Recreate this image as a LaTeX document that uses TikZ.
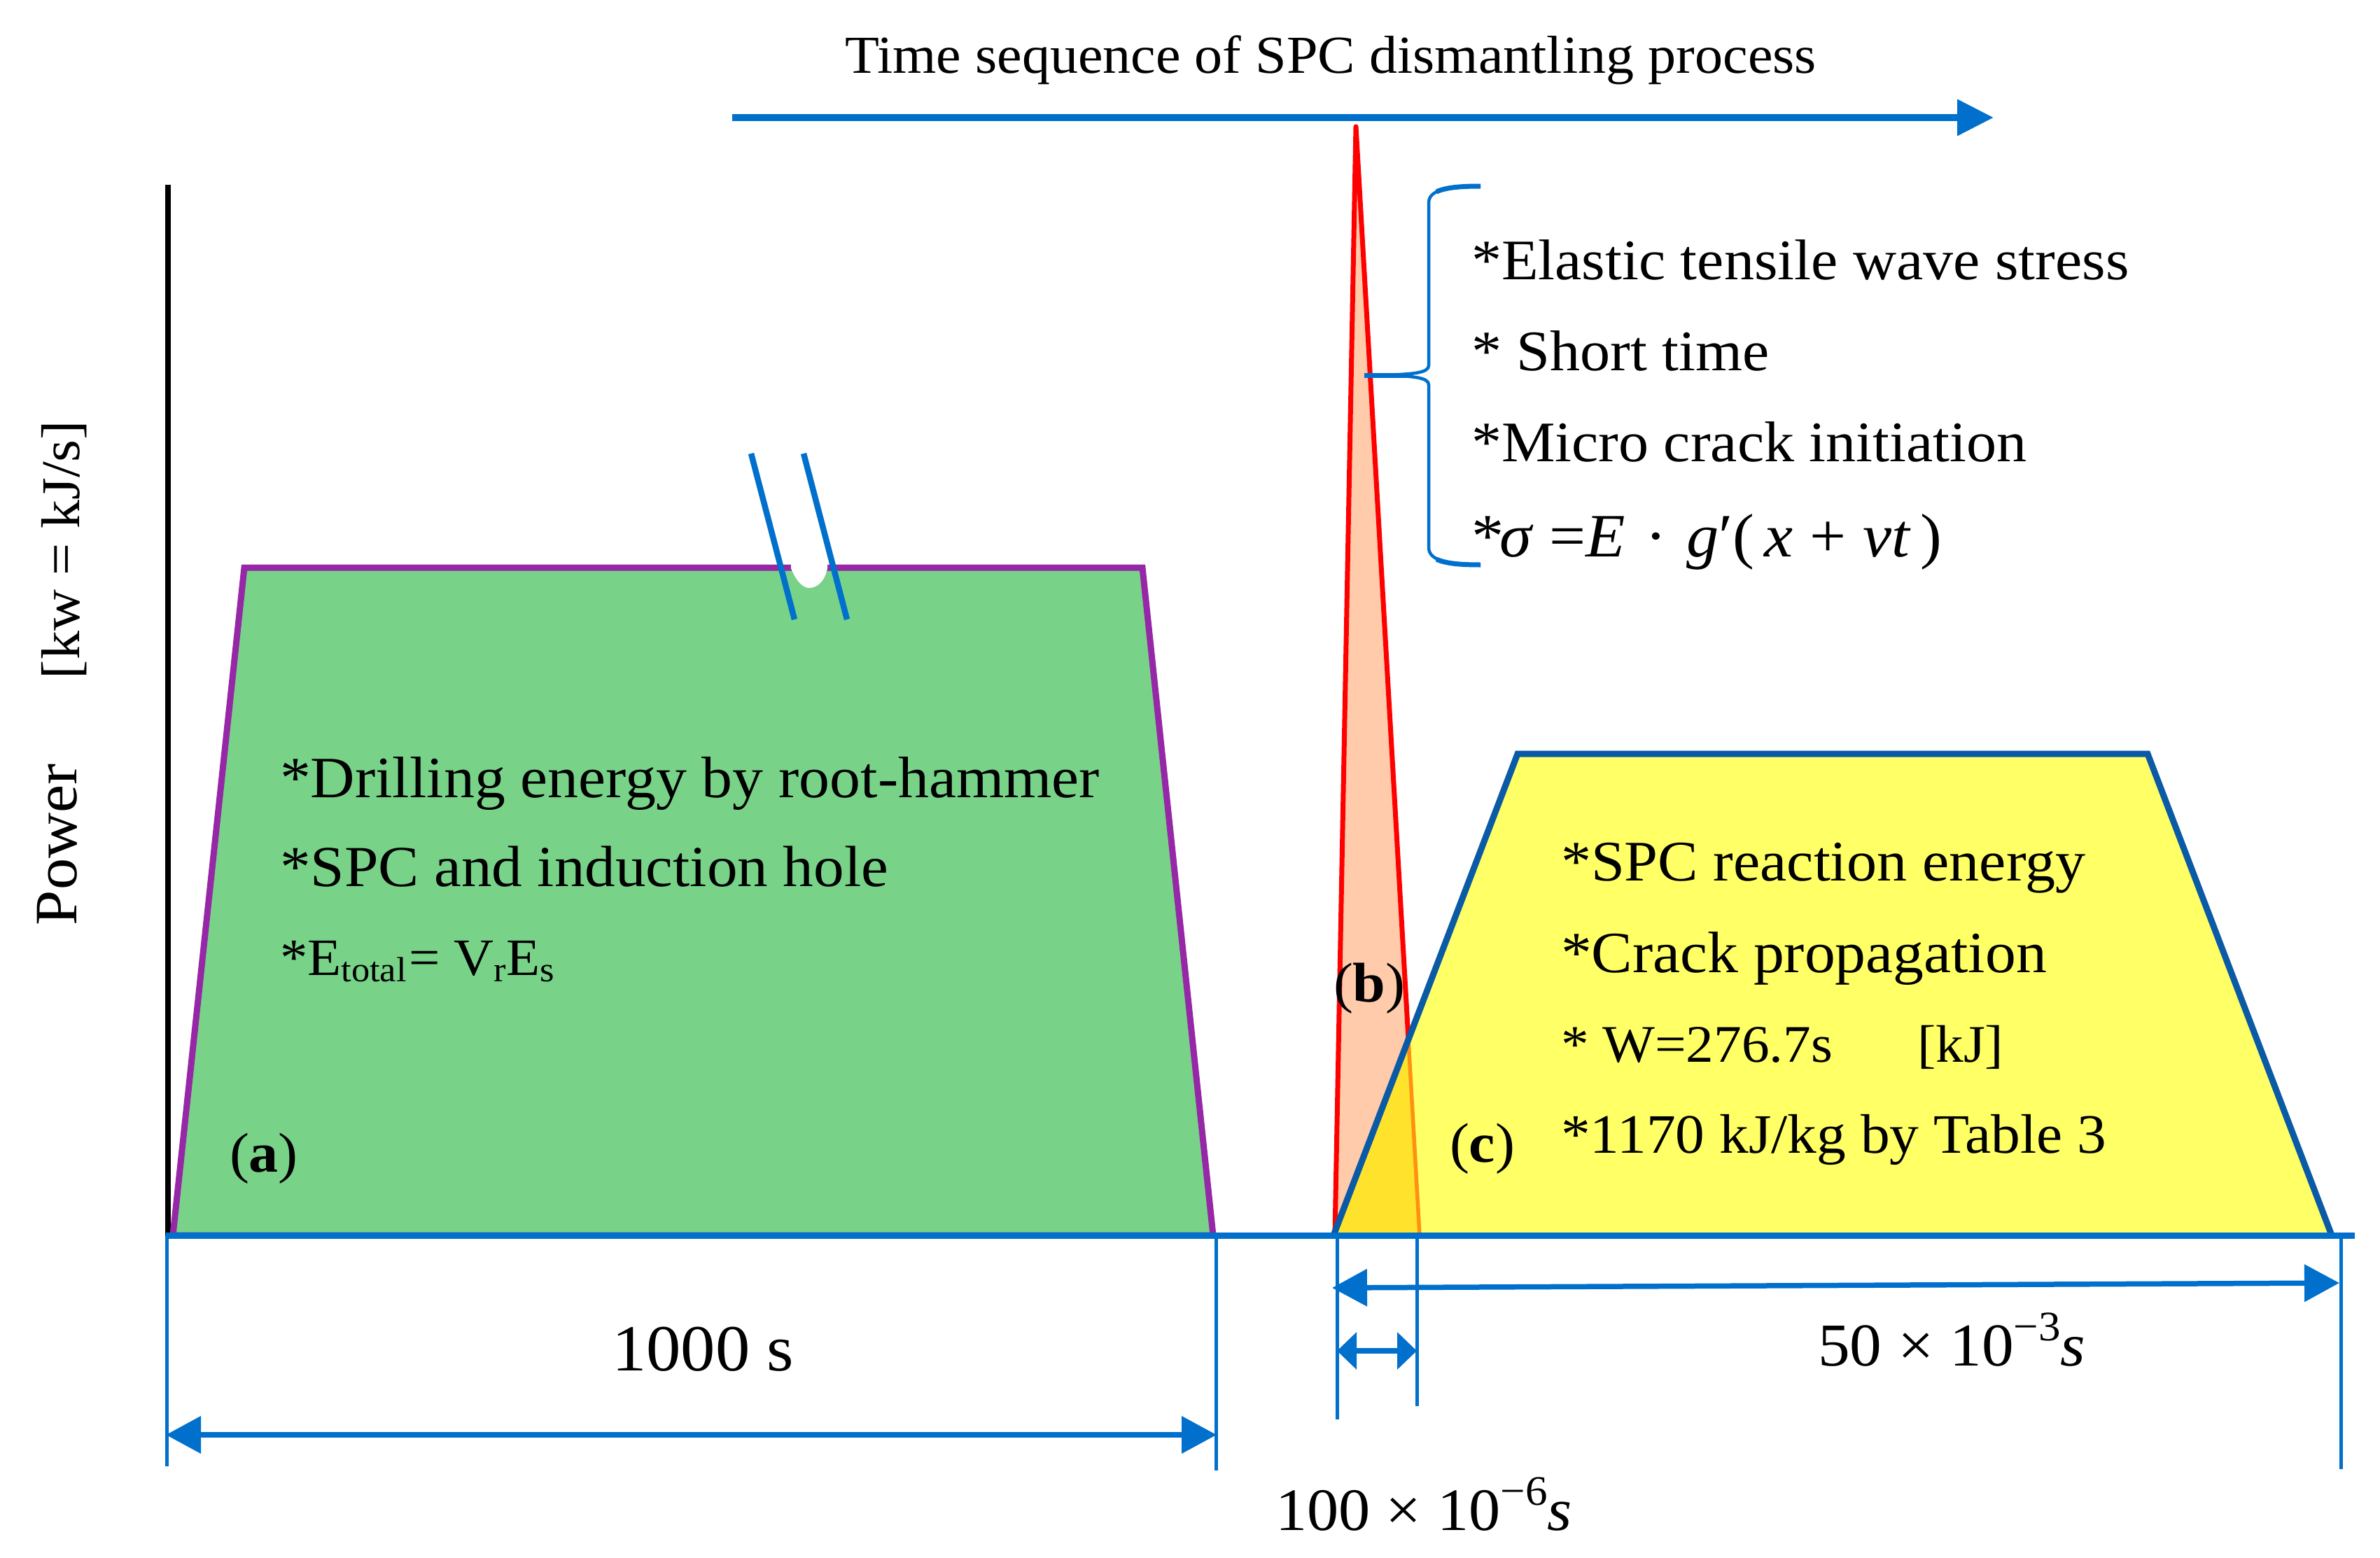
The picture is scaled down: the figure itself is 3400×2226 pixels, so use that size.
\documentclass[tikz,border=0pt]{standalone}
\usepackage{fontspec}
\setmainfont[FakeStretch=1.05]{Liberation Serif}
\usetikzlibrary{arrows.meta}
\definecolor{dimblue}{HTML}{0070CC}
\definecolor{trapblue}{HTML}{0B5AA5}
\definecolor{leafgreen}{HTML}{78D389}
\definecolor{edgepurple}{HTML}{9627A6}
\definecolor{softyellow}{HTML}{FFFF66}
\definecolor{peach}{HTML}{FFCBAA}
\definecolor{gold}{HTML}{FFE22C}
\definecolor{edgeorange}{HTML}{FF9010}
\newcommand{\fsz}[1]{\fontsize{#1}{#1}\selectfont}
\newcommand{\sbs}[1]{\raisebox{-9pt}{\fsz{50}#1}}
\newcommand{\spw}[1]{\raisebox{36pt}{\fsz{60}#1}}
\tikzset{
 lbl/.style={anchor=base west,inner sep=0pt,outer sep=0pt,font=\fsz{82}},
 dimline/.style={draw=dimblue,line width=5pt},
 dimarrow/.style={draw=dimblue,line width=7.5pt,{Triangle[length=50pt,width=52pt]}-{Triangle[length=50pt,width=52pt]},shorten <=-1pt,shorten >=-1pt},
 shortarrow/.style={draw=dimblue,line width=7.5pt,{Triangle[length=28pt,width=52pt]}-{Triangle[length=28pt,width=52pt]}},
}
\begin{document}
\begin{tikzpicture}[x=1pt,y=-1pt]
\useasboundingbox (0,0) rectangle (3400,2226);
% axis
\coordinate (axistop) at (240,264); \coordinate (origin) at (240,1765);
\draw[black,line width=8pt] (axistop) -- (origin);
% (a) trapezoid
\filldraw[fill=leafgreen,draw=edgepurple,line width=9pt,line join=miter] (247,1765) -- (349,811) -- (1632,811) -- (1733,1765) -- cycle;
% notch
\fill[white] (1130,800) -- (1130,812) .. controls (1138,832) and (1148,840) .. (1156,840) .. controls (1166,840) and (1178,832) .. (1182,812) -- (1182,800) -- cycle;
\coordinate (h1a) at (1073,648); \coordinate (h1b) at (1135,885);
\coordinate (h2a) at (1148,648); \coordinate (h2b) at (1210,885);
\draw[dimblue,line width=8.5pt] (h1a) -- (h1b);
\draw[dimblue,line width=8.5pt] (h2a) -- (h2b);
% (b) spike
\fill[peach] (1907,1765) -- (1937,181) -- (2028,1765) -- cycle;
\draw[red,line width=7pt,line join=round] (1907,1765) -- (1937,181) -- (2012,1485);
% (c) trapezoid
\fill[softyellow] (1905,1765) -- (2168,1077) -- (3068,1077) -- (3331,1765) -- cycle;
\fill[gold] (1905,1765) -- (2012,1485) -- (2028,1765) -- cycle;
\draw[edgeorange,line width=5.5pt] (2012,1485) -- (2028,1765);
\draw[trapblue,line width=9pt,line join=miter] (1905,1765) -- (2168,1077) -- (3068,1077) -- (3331,1765);
% brace
\draw[dimblue,line width=4.5pt] (2115,266) .. controls (2070,267) and (2041,270) .. (2041,290) -- (2041,522) .. controls (2041,532) and (2025,536) .. (1949,536) .. controls (2025,536) and (2041,540) .. (2041,550) -- (2041,782) .. controls (2041,802) and (2070,806) .. (2115,807);
\draw[dimblue,line width=7pt] (2115,266) .. controls (2085,266) and (2065,268) .. (2052,274);
\draw[dimblue,line width=7pt] (2115,807) .. controls (2085,807) and (2065,805) .. (2052,799);
\draw[dimblue,line width=7pt] (1949,536) -- (2015,536);
% time arrow
\coordinate (ts) at (1046,168); \coordinate (te) at (2848,168);
\draw[dimblue,line width=10pt,-{Triangle[length=52pt,width=50pt]}] (ts) -- (te);
% baseline and dimensions
\coordinate (bl) at (237,1765); \coordinate (br) at (3364,1765);
\draw[dimblue,line width=9pt] (bl) -- (br);
\coordinate (d1a) at (238,1765); \coordinate (d1b) at (238,2095);
\coordinate (d2a) at (1737,1765); \coordinate (d2b) at (1737,2101);
\coordinate (d3a) at (1910,1765); \coordinate (d3b) at (1910,2028);
\coordinate (d4a) at (2024,1765); \coordinate (d4b) at (2024,2009);
\coordinate (d5a) at (3344,1765); \coordinate (d5b) at (3344,2099);
\foreach \p/\q in {d1a/d1b,d2a/d2b,d3a/d3b,d4a/d4b,d5a/d5b} \draw[dimline] (\p) -- (\q);
\coordinate (a1) at (238,2050); \coordinate (a2) at (1737,2050);
\draw[dimarrow] (a1) -- (a2);
\coordinate (a3) at (1904,1840); \coordinate (a4) at (3341,1833);
\draw[dimarrow] (a3) -- (a4);
\coordinate (a5) at (1910,1930); \coordinate (a6) at (2024,1930);
\draw[shortarrow] (a5) -- (a6);
% texts
\node[lbl,font=\fsz{76.3}] (title) at (1207,105) {Time sequence of SPC dismantling process};
\node[lbl,rotate=90,font=\fsz{86}] (pw) at (109,1322) {Power};
\node[lbl,rotate=90,font=\fsz{78}] (kw) at (113,970) {[kw = kJ/s]};
\node[lbl] (s1) at (2102,399) {*Elastic tensile wave stress};
\node[lbl] (s2) at (2102,529) {* Short time};
\node[lbl] (s3) at (2102,659) {*Micro crack initiation};
\node[lbl,font=\fsz{88}] (s4) at (2102,795) {*\hspace{-6pt}\textit{σ} =\textit{E}\hspace{28pt}·\hspace{28pt}\textit{g}′(\hspace{14pt}\textit{x}\hspace{24pt}+\hspace{24pt}\textit{vt}\hspace{14pt})};
\node[lbl,font=\fsz{83.6}] (g1) at (400,1139) {*Drilling energy by root-hammer};
\node[lbl,font=\fsz{83}] (g2) at (400,1266) {*SPC and induction hole};
\node[lbl,font=\fsz{75}] (g3) at (400,1393) {*E\sbs{total}\hspace{4pt}= V\sbs{r}E\sbs{s}};
\node[lbl,font=\fsz{80}] (la) at (328,1674) {(\textbf{a})};
\node[lbl,font=\fsz{80}] (lb) at (1905,1431) {(\textbf{b})};
\node[lbl,font=\fsz{80}] (lc) at (2071,1660) {(\textbf{c})};
\node[lbl] (y1) at (2230,1258) {*SPC reaction energy};
\node[lbl,font=\fsz{83.5}] (y2) at (2230,1389) {*Crack propagation};
\node[lbl,font=\fsz{75.5}] (y3) at (2230,1517) {* W=276.7s};
\node[lbl,font=\fsz{75.5}] (y3b) at (2739,1517) {[kJ]};
\node[lbl,font=\fsz{79.5}] (y4) at (2230,1647) {*1170 kJ/kg by Table 3};
\node[lbl,font=\fsz{94}] (t1000) at (874,1958) {1000 s};
\node[lbl,font=\fsz{87}] (t50) at (2597,1951) {50 × 10\spw{−3}\textit{s}};
\node[lbl,font=\fsz{86}] (t100) at (1822,2186) {100 × 10\spw{−6}\textit{s}};
\end{tikzpicture}
\end{document}
